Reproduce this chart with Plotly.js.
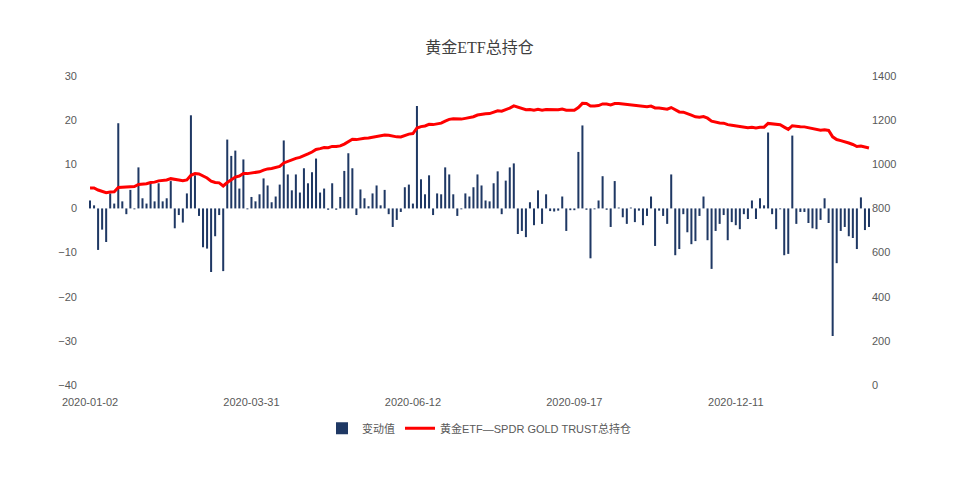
<!DOCTYPE html>
<html>
<head>
<meta charset="utf-8">
<script src="https://cdn.plot.ly/plotly-3.0.1.min.js"></script>
<style>html,body{margin:0;padding:0;background:#fff;}#chart{width:959px;height:489px;}</style>
</head>
<body>
<div id="chart"></div>
<script>
// Daily change (tonnes) per reporting day
const changeValues = [
  1.8, 0.7, -9.4, -4.8, -7.6, 3.4, 1.1, 19.3, 1.6, -1.3,
  4.2, -0.2, 9.3, 2.3, 1.1, 5.8, 1.6, 5.7, 1.6, 2.3,
  6.2, -4.5, -1.5, -3.2, 3.4, 21.1, 7.5, -1.7, -8.8, -9.1,
  -14.4, -6.3, -1.5, -14.2, 15.6, 11.9, 13.1, 4.5, 11.1, -0.2,
  2.6, 1.6, 3.2, 6.8, 5.2, 1.4, 2.7, 5.4, 15.4, 7.7,
  4.1, 7.7, 3.6, 9.1, 5.7, 8.2, 11.3, 3.6, 4.5, -0.3,
  5.7, -0.3, 2.6, 8.5, 12.5, 9.1, -1.5, 4.3, 2.3, 0.5,
  3.4, 5.2, 0.7, 4.2, -1.3, -4.2, -2.6, -0.8, 4.8, 5.4,
  1.1, 23.2, 6.6, 3.2, 7.5, -1.5, 3.4, 3.2, 9.3, 7.7,
  3.2, -1.7, -0.2, 3.4, 2.7, 4.8, 7.7, 5.2, 1.8, 1.6,
  5.7, 8.4, -1.3, 6.3, 9.3, 10.2, -5.8, -5.1, -6.5, 1.4,
  -3.8, 4.1, -3.5, 3.2, -0.6, -0.7, -0.5, 2.7, -5.1, -0.4,
  -0.4, 12.8, 18.8, -0.3, -11.3, -0.2, 1.8, 7.3, -0.3, -4.2,
  6.2, 0.2, -2.0, -3.5, 0.2, -3.1, -0.5, -3.8, -1.7, 2.7,
  -8.5, -0.5, -1.7, -3.5, 7.7, -10.6, -9.2, -1.3, -5.4, -8.1,
  -7.4, -1.7, 2.7, -7.2, -13.7, -5.1, -3.5, -1.5, -7.2, -3.1,
  -3.8, -4.7, -1.3, -2.4, 1.8, -2.4, 2.3, 0.7, 17.2, -1.3,
  -4.7, -0.2, -10.6, -10.3, 16.5, -3.5, -0.8, -0.8, -3.3, -4.5,
  -4.7, -2.6, 2.3, -3.3, -28.9, -12.4, -5.1, -4.2, -6.3, -6.7,
  -9.2, 2.5, -4.9, -4.2
];

// Total holdings (tonnes)
const holdingValues = [
  892.0, 892.7, 883.3, 878.5, 870.9, 874.3, 875.4, 894.7, 896.3, 895.0,
  899.2, 899.0, 908.3, 910.6, 911.7, 917.5, 919.1, 924.8, 926.4, 928.7,
  934.9, 930.4, 928.9, 925.7, 929.1, 950.2, 957.7, 956.0, 947.2, 938.1,
  923.7, 917.4, 915.9, 901.7, 917.3, 929.2, 942.3, 946.8, 957.9, 957.7,
  960.3, 962.4, 966.1, 973.4, 979.1, 981.0, 984.2, 990.1, 1006.0, 1014.2,
  1018.8, 1027.0, 1031.1, 1040.7, 1046.9, 1055.6, 1067.4, 1071.0, 1075.5, 1075.2,
  1080.9, 1080.6, 1083.2, 1091.7, 1104.2, 1113.3, 1111.8, 1116.1, 1118.4, 1118.9,
  1122.3, 1127.5, 1128.2, 1132.4, 1131.1, 1126.9, 1124.3, 1123.5, 1129.8, 1136.7,
  1139.3, 1164.0, 1170.6, 1173.8, 1181.3, 1179.8, 1183.2, 1186.4, 1195.7, 1203.4,
  1206.6, 1204.9, 1204.7, 1208.1, 1210.8, 1215.6, 1223.3, 1227.8, 1228.9, 1229.8,
  1234.8, 1242.5, 1240.5, 1246.1, 1254.7, 1264.5, 1258.7, 1253.6, 1247.1, 1248.5,
  1244.7, 1248.8, 1245.3, 1248.5, 1247.9, 1247.2, 1246.7, 1250.4, 1245.3, 1244.9,
  1244.5, 1257.3, 1276.1, 1275.8, 1264.5, 1264.3, 1266.1, 1273.4, 1273.1, 1268.9,
  1275.1, 1275.3, 1273.3, 1269.8, 1270.0, 1266.9, 1266.4, 1262.6, 1260.9, 1263.6,
  1255.1, 1254.6, 1252.9, 1249.4, 1257.1, 1246.5, 1237.3, 1236.0, 1230.6, 1222.5,
  1215.1, 1213.4, 1216.1, 1208.9, 1195.2, 1190.1, 1187.2, 1186.3, 1179.7, 1177.2,
  1174.0, 1169.3, 1168.0, 1165.6, 1167.4, 1165.0, 1167.3, 1168.0, 1185.2, 1183.9,
  1179.2, 1179.0, 1168.4, 1158.1, 1174.6, 1171.1, 1170.3, 1169.5, 1166.2, 1161.7,
  1157.0, 1154.4, 1156.7, 1153.4, 1124.5, 1112.1, 1107.0, 1102.8, 1096.5, 1089.8,
  1080.6, 1083.1, 1078.2, 1074.0
];

// X-axis tick labels and their category positions
const tickPositions = [0, 40, 80, 120, 160];
const tickLabels = ["2020-01-02", "2020-03-31", "2020-06-12", "2020-09-17", "2020-12-11"];

const seriesNames = ["变动值", "黄金ETF—SPDR GOLD TRUST总持仓"];
const chartTitle = "黄金ETF总持仓";

const xIdx = changeValues.map((_, i) => i);
const nCat = changeValues.length;

const FONT = "Liberation Sans, Noto Sans CJK SC, sans-serif";
const TXT = "#595959";

const traces = [
  {
    type: "bar", name: seriesNames[0], x: xIdx, y: changeValues,
    marker: {color: "#1f3864"}, xaxis: "x", yaxis: "y"
  },
  {
    type: "scatter", mode: "lines", name: seriesNames[1], x: xIdx, y: holdingValues,
    line: {color: "#ff0000", width: 3}, xaxis: "x", yaxis: "y2"
  }
];

const layout = {
  width: 959, height: 489,
  margin: {l: 88, r: 88, t: 76, b: 104},
  paper_bgcolor: "#ffffff", plot_bgcolor: "#ffffff",
  font: {family: FONT, size: 11, color: TXT},
  title: {
    text: chartTitle, x: 0.5, xanchor: "center", yref: "container", y: 0.904, yanchor: "middle",
    font: {family: "Liberation Serif, Noto Sans CJK SC, serif", size: 16, color: "#404040"}
  },
  bargap: 0.5,
  showlegend: true,
  legend: {
    orientation: "h", x: 0.5, xanchor: "center", y: -0.14, yanchor: "middle",
    font: {family: FONT, size: 11, color: TXT}, traceorder: "normal"
  },
  xaxis: {
    range: [-0.5, nCat - 0.5], tickmode: "array", tickvals: tickPositions, ticktext: tickLabels,
    showline: false, showgrid: false, zeroline: false, ticks: "", ticklabelstandoff: 9,
    tickfont: {size: 11, color: TXT}
  },
  xaxis2: {
    overlaying: "x", anchor: "free", position: 40/70, range: [-0.5, nCat - 0.5],
    tickmode: "linear", tick0: -0.5, dtick: 1, ticks: "outside", ticklen: 3, tickcolor: "#d9d9d9",
    showline: true, linecolor: "#d9d9d9", linewidth: 1, showticklabels: false, showgrid: false, zeroline: false
  },
  yaxis: {
    range: [-40, 30], dtick: 10, showgrid: false, zeroline: false, showline: false,
    ticks: "", ticklabelstandoff: 10, tickfont: {size: 11, color: TXT}
  },
  yaxis2: {
    overlaying: "y", side: "right", range: [0, 1400], dtick: 200, showgrid: false, zeroline: false,
    showline: false, ticks: "", ticklabelstandoff: 0, tickfont: {size: 11, color: TXT}
  }
};

Plotly.newPlot("chart", traces, layout, {displayModeBar: false, staticPlot: true});
</script>
</body>
</html>
